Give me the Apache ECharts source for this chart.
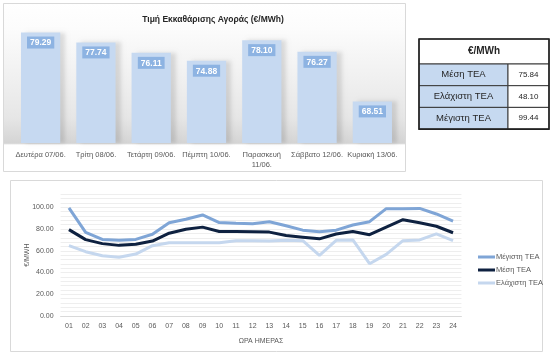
<!DOCTYPE html>
<html><head><meta charset="utf-8">
<script src="https://cdn.jsdelivr.net/npm/echarts@6/dist/echarts.min.js"></script>
<style>html,body{margin:0;padding:0;background:#fff}#c{width:558px;height:359px}</style>
</head><body><div id="c"></div>
<script>
const barTitle = 'Τιμή Εκκαθάρισης Αγοράς (€/MWh)';
const days = ['Δευτέρα 07/06.', 'Τρίτη 08/06.', 'Τετάρτη 09/06.', 'Πέμπτη 10/06.', 'Παρασκευή\n11/06.', 'Σάββατο 12/06.', 'Κυριακή 13/06.'];
const dayPrices = [79.29, 77.74, 76.11, 74.88, 78.10, 76.27, 68.51];

const hours = ['01','02','03','04','05','06','07','08','09','10','11','12','13','14','15','16','17','18','19','20','21','22','23','24'];
const maxTEA = [99.44, 77.0, 70.5, 69.6, 70.5, 75.2, 85.9, 89.0, 93.0, 86.0, 85.3, 85.0, 86.8, 83.0, 79.0, 77.6, 79.0, 83.7, 86.8, 98.8, 98.8, 99.0, 93.9, 87.4];
const meanTEA = [79.5, 70.3, 66.6, 65.0, 66.0, 69.0, 76.2, 79.9, 81.8, 77.8, 77.8, 77.6, 77.2, 74.0, 72.5, 71.0, 75.5, 77.8, 74.8, 81.8, 88.6, 85.8, 82.6, 76.6];
const minTEA = [64.7, 59.2, 55.5, 54.0, 57.0, 64.7, 67.5, 67.5, 67.5, 67.5, 69.3, 69.3, 69.0, 69.6, 69.3, 55.8, 69.6, 70.0, 48.10, 56.7, 69.3, 70.0, 75.5, 69.3];

const tableHeader = '€/MWh';
const tableLabels = ['Μέση ΤΕΑ', 'Ελάχιστη ΤΕΑ', 'Μέγιστη ΤΕΑ'];
const tableValues = ['75.84', '48.10', '99.44'];

const FONT = '"Liberation Sans", Arial, sans-serif';
const TXT = '#595959';

// table graphics
const tbl = [];
const tx = 419, tw = 130, tcol = 89, ty = 39, th0 = 25, rh = 21.7;
tbl.push({type:'rect', shape:{x:tx, y:ty, width:tw, height:th0}, style:{fill:'#ffffff', stroke:'#3a3a3a', lineWidth:1}});
tbl.push({type:'text', x:tx+tw/2, y:ty+th0/2, style:{text:tableHeader, font:'bold 10px '+FONT, fill:'#262626', align:'center', verticalAlign:'middle'}});
tableLabels.forEach((lab,i)=>{
  const y = ty+th0+i*rh;
  tbl.push({type:'rect', shape:{x:tx, y:y, width:tcol, height:rh}, style:{fill:'#c6d9f0', stroke:'#3a3a3a', lineWidth:1}});
  tbl.push({type:'rect', shape:{x:tx+tcol, y:y, width:tw-tcol, height:rh}, style:{fill:'#ffffff', stroke:'#3a3a3a', lineWidth:1}});
  tbl.push({type:'text', x:tx+tcol/2, y:y+rh/2, style:{text:lab, font:'9.5px '+FONT, fill:'#262626', align:'center', verticalAlign:'middle'}});
  tbl.push({type:'text', x:tx+tcol+(tw-tcol)/2, y:y+rh/2, style:{text:tableValues[i], font:'8px '+FONT, fill:'#262626', align:'center', verticalAlign:'middle'}});
});
tbl.push({type:'rect', shape:{x:tx, y:ty, width:tw, height:th0+3*rh}, style:{fill:'none', stroke:'#222', lineWidth:1.6}});

const chart = echarts.init(document.getElementById('c'), null, {renderer:'canvas'});
chart.setOption({
  animation:false,
  backgroundColor:'#ffffff',
  graphic:[
    {type:'rect', z:-10, shape:{x:3.5, y:3.5, width:402, height:168},
     style:{stroke:'#d9d9d9', lineWidth:1,
       fill:new echarts.graphic.LinearGradient(0,0,0,1,[
         {offset:0, color:'#ffffff'},{offset:0.15, color:'#fcfcfc'},{offset:0.45, color:'#f0f0f0'},
         {offset:0.68, color:'#e6e6e6'},{offset:0.83, color:'#d4d4d4'},{offset:0.84, color:'#ffffff'},{offset:1, color:'#ffffff'}])}},
    {type:'rect', z:-10, shape:{x:10.5, y:180.5, width:532, height:171}, style:{fill:'#ffffff', stroke:'#d9d9d9', lineWidth:1}},
    ...tbl
  ],
  title:{text:barTitle, left:208, top:10, textAlign:'center',
    textStyle:{fontFamily:FONT, fontSize:8.5, fontWeight:'bold', color:'#262626'}},
  grid:[
    {left:13, right:158, top:28, bottom:216},
    {left:60.6, right:96.6, top:194.3, bottom:43}
  ],
  legend:{data:['Μέγιστη ΤΕΑ','Μέση ΤΕΑ','Ελάχιστη ΤΕΑ'], orient:'vertical', left:473, top:248,
    icon:'rect', itemWidth:17, itemHeight:3, itemGap:5,
    textStyle:{fontFamily:FONT, fontSize:7.5, color:TXT, padding:[0,0,0,-4]}},
  xAxis:[
    {type:'category', gridIndex:0, data:days, axisLine:{show:false}, axisTick:{show:false},
     axisLabel:{interval:0, margin:7, fontFamily:FONT, fontSize:7.5, color:TXT, lineHeight:10}},
    {type:'category', gridIndex:1, data:hours, name:'ΩΡΑ ΗΜΕΡΑΣ', nameLocation:'middle', nameGap:22, nameMoveOverlap:false,
     nameTextStyle:{fontFamily:FONT, fontSize:7, color:TXT},
     axisLine:{lineStyle:{color:'#d9d9d9'}}, axisTick:{show:false},
     axisLabel:{interval:0, margin:7, fontFamily:FONT, fontSize:7, color:TXT}}
  ],
  yAxis:[
    {type:'value', gridIndex:0, min:62, max:80, show:false},
    {type:'value', gridIndex:1, min:0, max:112, interval:4, name:'€/MWH', nameLocation:'middle', nameGap:30, nameMoveOverlap:false,
     nameTextStyle:{fontFamily:FONT, fontSize:7, color:TXT},
     axisLine:{show:false}, axisTick:{show:false},
     splitLine:{lineStyle:{color:'#eeeeee', width:1}},
     axisLabel:{margin:7, fontFamily:FONT, fontSize:7, color:TXT,
       formatter:v=> (v%20===0 ? v.toFixed(2) : '')}}
  ],
  series:[
    {type:'bar', xAxisIndex:0, yAxisIndex:0, data:dayPrices, barCategoryGap:'29%',
     itemStyle:{color:'#c6d9f1', shadowColor:'rgba(0,0,0,0.12)', shadowBlur:4, shadowOffsetX:5},
     label:{show:true, position:'insideTop', distance:4, formatter:p=>p.value.toFixed(2),
       backgroundColor:'#8db3e2', color:'#ffffff', fontWeight:'bold', fontFamily:FONT, fontSize:8.5, padding:[2,3,1,3]}},
    {name:'Μέγιστη ΤΕΑ', type:'line', xAxisIndex:1, yAxisIndex:1, data:maxTEA, symbol:'none',
     lineStyle:{color:'#7fa5d6', width:3}, itemStyle:{color:'#7fa5d6'}},
    {name:'Μέση ΤΕΑ', type:'line', xAxisIndex:1, yAxisIndex:1, data:meanTEA, symbol:'none',
     lineStyle:{color:'#0e2140', width:3}, itemStyle:{color:'#0e2140'}},
    {name:'Ελάχιστη ΤΕΑ', type:'line', xAxisIndex:1, yAxisIndex:1, data:minTEA, symbol:'none',
     lineStyle:{color:'#c5d7ee', width:3}, itemStyle:{color:'#c5d7ee'}}
  ]
});
</script></body></html>
